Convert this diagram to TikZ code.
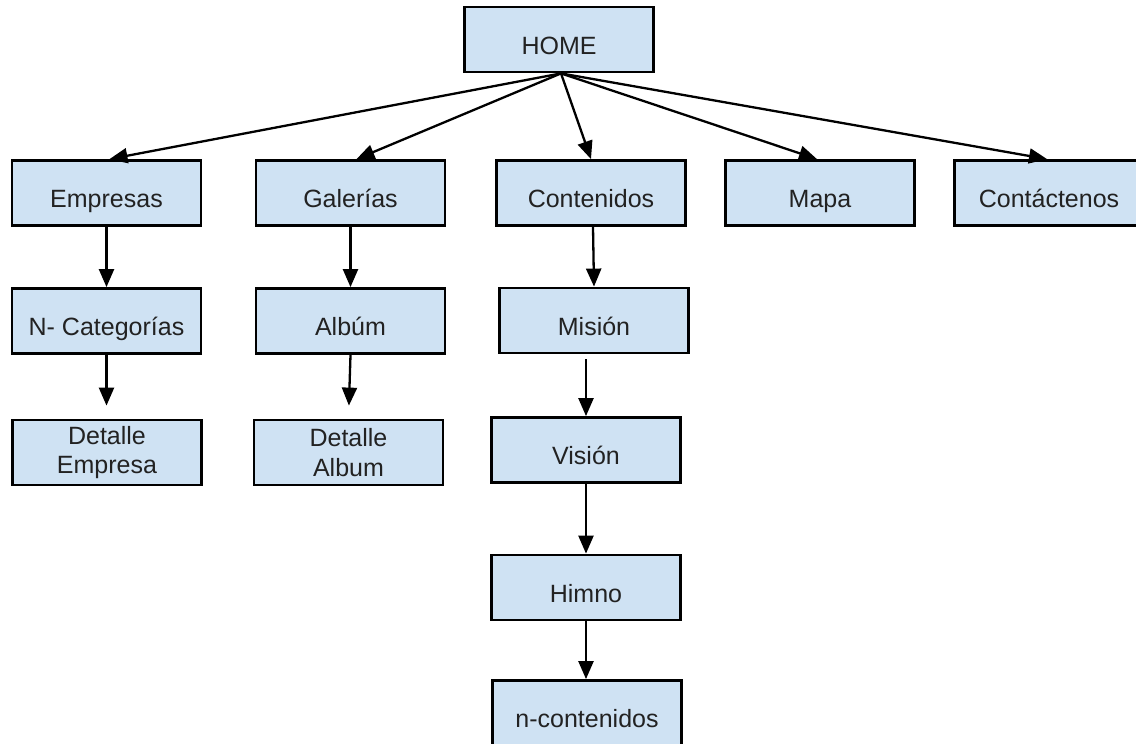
\documentclass[tikz,border=0pt]{standalone}
\usepackage{fontspec}
\setmainfont{Liberation Sans}
\usetikzlibrary{arrows.meta}
\definecolor{boxfill}{HTML}{CFE2F3}
\definecolor{txt}{HTML}{222222}
\begin{document}
\begin{tikzpicture}[x=1pt,y=-1pt,
  boxbase/.style={draw=black,fill=boxfill,line width=2.8pt,minimum width=189pt,minimum height=65pt,
    inner sep=0pt,align=center,text=txt,font=\fontsize{25}{29.5}\selectfont},
  pagebox/.style={boxbase,text height=29pt,text depth=0pt},
  twobox/.style={boxbase},
  conn/.style={line width=2.3pt,-{Triangle[length=18pt,width=15pt]}}]
\useasboundingbox (0,0) rectangle (1136,744);
\fill[white] (0,0) rectangle (1136,744);
\node[pagebox] (home) at (559,39.5) {HOME};
\node[pagebox] (emp) at (106.5,193) {Empresas};
\node[pagebox] (gal) at (350.5,193) {Galerías};
\node[pagebox] (cont) at (591,193) {Contenidos};
\node[pagebox] (mapa) at (820,193) {Mapa};
\node[pagebox] (contac) at (1049,193) {Contáctenos};
\node[pagebox] (ncat) at (106.5,321) {N- Categorías};
\node[pagebox] (alb) at (350.5,321) {Albúm};
\node[pagebox] (mis) at (594,320.5) {Misión};
\node[twobox] (demp) at (107,452.5) {Detalle\\Empresa};
\node[twobox] (dalb) at (348.5,452.5) {Detalle\\Album};
\node[pagebox] (vis) at (586,450) {Visión};
\node[pagebox] (him) at (586,587.5) {Himno};
\node[pagebox] (ncont) at (587,713) {n-contenidos};

\draw[conn] ([xshift=2pt]home.south) -- ([xshift=3pt]emp.north);
\draw[conn] ([xshift=2pt]home.south) -- ([xshift=6pt]gal.north);
\draw[conn] ([xshift=2pt]home.south) -- (cont.north);
\draw[conn] ([xshift=2pt]home.south) -- ([xshift=-3pt]mapa.north);
\draw[conn] ([xshift=2pt]home.south) -- ([xshift=-2pt]contac.north);

\draw[conn] (emp.south) -- (ncat.north);
\draw[conn,shorten >=13pt] (ncat.south) -- (demp.north -| ncat.south);
\draw[conn] (gal.south) -- (alb.north);
\draw[conn,shorten >=13pt] (alb.south) -- (dalb.north);
\draw[conn] ([xshift=2pt]cont.south) -- (mis.north);
\draw[conn] ([yshift=-5pt]mis.south -| vis.north) -- (vis.north);
\draw[conn] (vis.south) -- (him.north);
\draw[conn] (him.south) -- (him.south |- ncont.north);
\end{tikzpicture}
\end{document}
